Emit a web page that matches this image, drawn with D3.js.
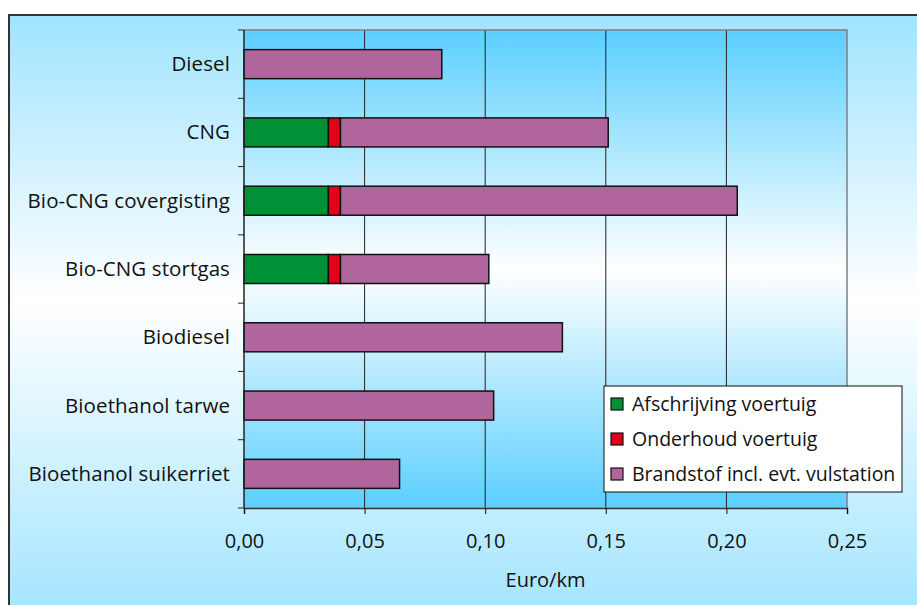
<!DOCTYPE html>
<html lang="nl">
<head>
<meta charset="UTF-8">
<title>Kosten per km</title>
<style>
  html, body { margin: 0; padding: 0; background: #fff; }
  svg { display: block; }
  text { font-family: "Open Sans", "DejaVu Sans", sans-serif; fill: #111; }
</style>
</head>
<body>
<div id="chart"></div>
<script src="https://cdn.jsdelivr.net/npm/d3@7"></script>
<script>
// data (Euro/km)
var categories = ["Diesel", "CNG", "Bio-CNG covergisting", "Bio-CNG stortgas",
                  "Biodiesel", "Bioethanol tarwe", "Bioethanol suikerriet"];
var afschrijving = [0, 0.035, 0.035, 0.035, 0, 0, 0];
var onderhoud    = [0, 0.005, 0.005, 0.005, 0, 0, 0];
var brandstof    = [0.082, 0.111, 0.1645, 0.0615, 0.132, 0.1035, 0.0645];
var seriesNames  = ["Afschrijving voertuig", "Onderhoud voertuig", "Brandstof incl. evt. vulstation"];
var seriesColors = ["#009036", "#e2001a", "#b0659c"];
var xTicks = [0, 0.05, 0.10, 0.15, 0.20, 0.25];
var xTitle = "Euro/km";

var width = 917, height = 605;
var plot = { left: 244, right: 847, top: 30, bottom: 508 };

var svg = d3.select("#chart").append("svg")
    .attr("width", width)
    .attr("height", height);

var defs = svg.append("defs");
var outerGrad = defs.append("linearGradient")
    .attr("id", "outerGrad").attr("x1", 0).attr("y1", 0).attr("x2", 0).attr("y2", 1);
outerGrad.append("stop").attr("offset", "0%").attr("stop-color", "#a0e4ff");
outerGrad.append("stop").attr("offset", "47%").attr("stop-color", "#ffffff");
outerGrad.append("stop").attr("offset", "100%").attr("stop-color", "#a0e4ff");

var plotGrad = defs.append("linearGradient")
    .attr("id", "plotGrad").attr("x1", 0).attr("y1", 0).attr("x2", 0).attr("y2", 1);
plotGrad.append("stop").attr("offset", "0%").attr("stop-color", "#5bcfff");
plotGrad.append("stop").attr("offset", "50%").attr("stop-color", "#ffffff");
plotGrad.append("stop").attr("offset", "100%").attr("stop-color", "#5bcfff");

// chart area background (runs off the bottom/right of the window)
svg.append("rect")
    .attr("x", 9).attr("y", 15)
    .attr("width", 940).attr("height", 610)
    .attr("fill", "url(#outerGrad)")
    .attr("stroke", "#333")
    .attr("stroke-width", 2);

svg.append("rect")
    .attr("x", plot.left).attr("y", plot.top)
    .attr("width", plot.right - plot.left).attr("height", plot.bottom - plot.top)
    .attr("fill", "url(#plotGrad)");

var x = d3.scaleLinear()
    .domain([0, 0.25])
    .range([plot.left, plot.right]);

var y = d3.scaleBand()
    .domain(categories)
    .range([plot.top, plot.bottom])
    .paddingInner(0.575)
    .paddingOuter(0.2875);

// gridlines
svg.append("g")
    .selectAll("line")
    .data(xTicks.slice(1, -1))
    .join("line")
    .attr("x1", d => x(d)).attr("x2", d => x(d))
    .attr("y1", plot.top).attr("y2", plot.bottom)
    .attr("stroke", "#222")
    .attr("stroke-width", 1);

// frame top + right
svg.append("path")
    .attr("d", "M" + plot.left + "," + plot.top + "H" + plot.right + "V" + plot.bottom)
    .attr("fill", "none")
    .attr("stroke", "#808080")
    .attr("stroke-width", 1.5);

// stacked bars
var rows = categories.map(function (c, i) {
    return { cat: c, a: afschrijving[i], o: onderhoud[i], b: brandstof[i] };
});
var stacked = d3.stack().keys(["a", "o", "b"])(rows);

svg.append("g")
    .selectAll("g")
    .data(stacked)
    .join("g")
    .attr("fill", (d, i) => seriesColors[i])
    .selectAll("rect")
    .data(d => d.filter(s => s[1] - s[0] > 0))
    .join("rect")
    .attr("x", d => x(d[0]))
    .attr("y", d => y(d.data.cat))
    .attr("width", d => x(d[1]) - x(d[0]))
    .attr("height", y.bandwidth())
    .attr("stroke", "#111")
    .attr("stroke-width", 1.5);

// x axis
var xAxis = d3.axisBottom(x)
    .tickValues(xTicks)
    .tickSize(6)
    .tickFormat(d => d3.format(".2f")(d).replace(".", ","));

var gx = svg.append("g")
    .attr("transform", "translate(0," + plot.bottom + ")")
    .call(xAxis);
gx.select(".domain").attr("stroke", "#333").attr("stroke-width", 1.5);
gx.selectAll(".tick line").attr("stroke", "#111");
gx.selectAll(".tick text")
    .attr("y", 40)
    .attr("dy", 0)
    .attr("font-size", 20)
    .attr("font-family", null)
    .attr("fill", "#111");

// y axis: ticks sit on the category boundaries
var boundaries = d3.range(categories.length + 1).map(i => plot.top + i * y.step());
svg.append("line")
    .attr("x1", plot.left).attr("x2", plot.left)
    .attr("y1", plot.top).attr("y2", plot.bottom)
    .attr("stroke", "#222").attr("stroke-width", 1.5);
svg.append("g")
    .selectAll("line")
    .data(boundaries)
    .join("line")
    .attr("x1", plot.left - 6).attr("x2", plot.left)
    .attr("y1", d => d).attr("y2", d => d)
    .attr("stroke", "#222");

svg.append("g")
    .selectAll("text")
    .data(categories)
    .join("text")
    .attr("x", plot.left - 14)
    .attr("y", d => y(d) + y.bandwidth() / 2 + 7)
    .attr("text-anchor", "end")
    .attr("font-size", 20.5)
    .attr("letter-spacing", 0.1)
    .text(d => d);

svg.append("text")
    .attr("x", (plot.left + plot.right) / 2)
    .attr("y", 587)
    .attr("text-anchor", "middle")
    .attr("font-size", 20)
    .text(xTitle);

// legend
var legend = svg.append("g").attr("transform", "translate(604,386)");
legend.append("rect")
    .attr("width", 298).attr("height", 106)
    .attr("fill", "#fff")
    .attr("stroke", "#111")
    .attr("stroke-width", 1);

var items = legend.selectAll("g.item")
    .data(seriesNames)
    .join("g")
    .attr("class", "item")
    .attr("transform", (d, i) => "translate(0," + (18 + i * 35) + ")");
items.append("rect")
    .attr("x", 7).attr("y", -6)
    .attr("width", 12).attr("height", 12)
    .attr("fill", (d, i) => seriesColors[i])
    .attr("stroke", "#111")
    .attr("stroke-width", 1.2);
items.append("text")
    .attr("x", 28)
    .attr("y", 7)
    .attr("font-size", 19.5)
    .text(d => d);
</script>
</body>
</html>
